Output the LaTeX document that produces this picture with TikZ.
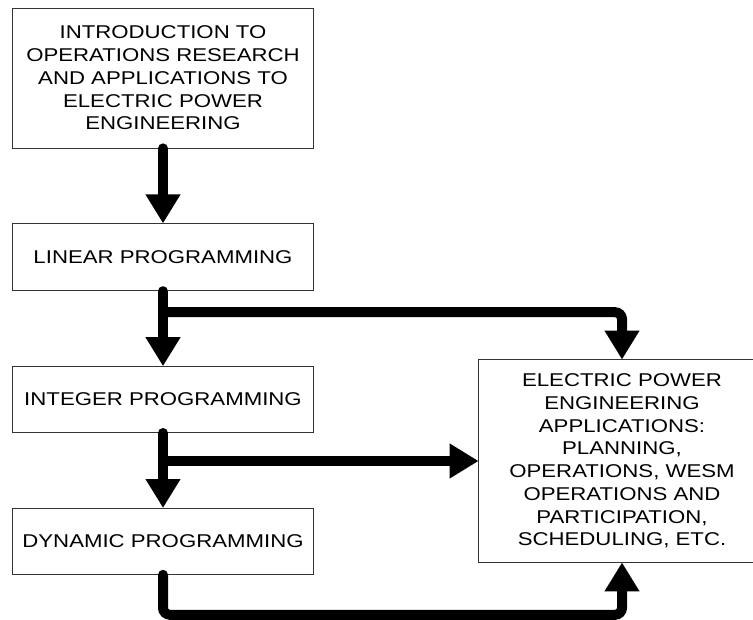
\documentclass[tikz,border=0pt]{standalone}
\usepackage{fontspec}
\setmainfont{Liberation Sans}[FakeStretch=1.2]
\usetikzlibrary{arrows.meta,positioning,calc}

\begin{document}
\begin{tikzpicture}[x=1pt, y=1pt, font=\fontsize{18.5}{22.7}\selectfont, node distance=75pt,
  edge/.style={draw=black!80, line width=0.8pt},
  box/.style={edge, align=center, inner sep=0pt, minimum width=301pt},
  flow/.style={line width=10pt, line cap=round, rounded corners=7pt,
               -{Triangle[length=29pt, width=33pt]}}]
  \useasboundingbox (0,0) rectangle (753,-620);
  \node (intro) [box, minimum height=140pt] at (163,-78)
    {INTRODUCTION TO\\ OPERATIONS RESEARCH\\ AND APPLICATIONS TO\\ ELECTRIC POWER\\ ENGINEERING};
  \node (linear) [box, minimum height=67pt, below=of intro] {LINEAR PROGRAMMING};
  \node (integer) [box, minimum height=66pt, below=of linear] {INTEGER PROGRAMMING};
  \node (dynamic) [box, minimum height=66pt, below=of integer] {DYNAMIC PROGRAMMING};
  % applications box runs off the right edge of the page
  \node (apps) [box, draw=none, minimum width=286pt, minimum height=202pt] at (622,-461)
    {ELECTRIC POWER\\ ENGINEERING\\ APPLICATIONS:\\ PLANNING,\\ OPERATIONS, WESM\\ OPERATIONS AND\\ PARTICIPATION,\\ SCHEDULING, ETC.};
  \draw[edge] ($(apps.north east)+(-12,0)$) -- (apps.north west) -- (apps.south west)
    -- ($(apps.south east)+(-12,0)$);
  \coordinate [below=21pt of linear] (split1);
  \draw[flow] (intro) -- (linear);
  \draw[flow] (linear) -- (integer);
  \draw[flow] (split1) -| (apps.north);
  \draw[flow] (integer) -- (dynamic);
  \draw[flow] (integer.south |- apps.west) -- (apps.west);
  \draw[flow] (dynamic.south) -- ++(0,-40) -| (apps.south);
\end{tikzpicture}
\end{document}
